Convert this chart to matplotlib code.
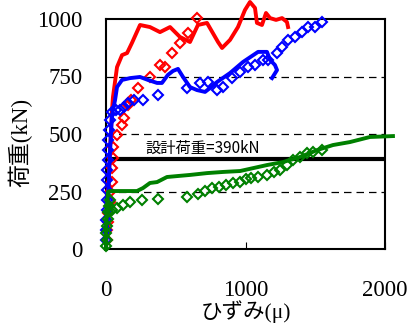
import matplotlib
matplotlib.use("Agg")
import matplotlib.pyplot as plt

# load-strain curves: (strain [μ], load [kN])
red_line_x = [0, 14, 29, 43, 50, 79, 115, 151, 186, 244, 315, 387, 459, 530, 602, 659, 724, 803, 832,
              889, 946, 996, 1032, 1068, 1082, 1118, 1147, 1176, 1219, 1262, 1297, 1305]
red_line_y = [0, 213, 430, 604, 661, 791, 843, 852, 896, 974, 965, 943, 965, 922, 900, 974, 983, 900, 874,
              909, 965, 1039, 1074, 1048, 983, 974, 1026, 1004, 996, 1004, 987, 965]
red_pts_x = [7, 7, 14, 14, 29, 29, 43, 43, 50, 50, 79, 115, 129, 158, 179, 229, 315, 387, 423, 473, 530, 588, 652]
red_pts_y = [39, 83, 117, 157, 204, 248, 291, 352, 396, 443, 496, 539, 570, 626, 648, 700, 748, 800, 791,
             852, 896, 939, 1004]

blue_line_x = [0, 14, 29, 43, 65, 79, 115, 172, 244, 301, 366, 401, 444, 480, 516, 552, 602, 652, 710, 746,
               796, 889, 982, 1090, 1154, 1176, 1211, 1226, 1190]
blue_line_y = [0, 213, 430, 583, 648, 704, 735, 743, 748, 735, 722, 722, 757, 774, 783, 748, 704, 691, 683, 700,
               726, 765, 813, 857, 857, 822, 800, 778, 743]
blue_pts_x = [0, 0, 0, 7, 7, 7, 7, 7, 14, 14, 14, 22, 29, 43, 72, 100, 129, 158, 201, 265, 373, 581, 674, 731,
              796, 839, 903, 961, 1018, 1068, 1125, 1161, 1226, 1262, 1305, 1355, 1405, 1448, 1498, 1548]
blue_pts_y = [39, 83, 126, 170, 213, 257, 300, 343, 387, 430, 474, 517, 561, 596, 604, 604, 617, 635, 648, 648,
              670, 700, 722, 726, 691, 704, 743, 770, 791, 800, 822, 822, 852, 878, 909, 922, 943, 965, 965, 987]

green_line_x = [0, 0, 7, 14, 29, 222, 265, 315, 366, 437, 509, 602, 724, 839, 961, 1154, 1269, 1391, 1513,
                1627, 1749, 1892, 2057]
green_line_y = [0, 83, 170, 248, 252, 252, 265, 287, 291, 313, 317, 322, 330, 335, 339, 365, 378, 400, 430,
                452, 465, 487, 491]
green_pts_x = [0, 7, 0, 7, 14, 14, 22, 29, 43, 79, 122, 172, 258, 373, 581, 659, 710, 760, 810, 860, 910, 961,
               1004, 1039, 1090, 1154, 1204, 1247, 1297, 1340, 1391, 1441, 1484, 1548]
green_pts_y = [13, 39, 70, 100, 130, 161, 187, 213, 170, 178, 191, 204, 213, 217, 226, 239, 252, 265, 270, 278,
               287, 291, 304, 309, 313, 322, 335, 343, 365, 387, 400, 417, 422, 430]

design_load = 390

serif_cjk = ["Liberation Serif", "Noto Sans CJK JP"]

fig = plt.figure(figsize=(4.08, 3.26), dpi=100)
ax = fig.add_axes([106 / 408, 1 - 249 / 326, 279 / 408, 230 / 326])

series = [
    ("red", red_line_x, red_line_y, red_pts_x, red_pts_y),
    ("blue", blue_line_x, blue_line_y, blue_pts_x, blue_pts_y),
    ("green", green_line_x, green_line_y, green_pts_x, green_pts_y),
]
for i, (c, lx, ly, px, py) in enumerate(series):
    ax.plot(lx, ly, color=c, lw=2.8, clip_on=False, zorder=3 + i)
    ax.plot(px, py, ls="none", marker="D", ms=5.6, mfc="none", mec=c, mew=1.5,
            clip_on=False, zorder=3 + i)

ax.axhline(design_load, color="black", lw=3, zorder=2)
ax.text(280, 439, "設計荷重=390kN", fontsize=11, family=["Noto Sans CJK JP"],
        va="center", ha="left")

for yv in [250, 500, 750]:
    ax.axhline(yv, color="black", lw=0.9, ls=(0, (6, 4)), zorder=1)

ax.set_xlim(0, 2000)
ax.set_ylim(0, 1000)
ax.set_xticks([0, 1000, 2000])
ax.set_yticks([0, 250, 500, 750, 1000])
ax.tick_params(axis="x", direction="in", length=5, pad=22)
ax.tick_params(axis="y", direction="in", length=0, pad=17)
for lab in ax.get_xticklabels() + ax.get_yticklabels():
    lab.set_family("Liberation Serif")
    lab.set_fontsize(16.5)
for s in ax.spines.values():
    s.set_linewidth(1.5)

ax.set_xlabel("ひずみ(μ)", fontsize=15.5, family=serif_cjk)
ax.xaxis.set_label_coords(0.5, -0.222)
ax.set_ylabel("荷重(kN)", fontsize=16.5, family=serif_cjk)
ax.yaxis.set_label_coords(-0.265, 0.465)

plt.savefig("out.png", dpi=100)
